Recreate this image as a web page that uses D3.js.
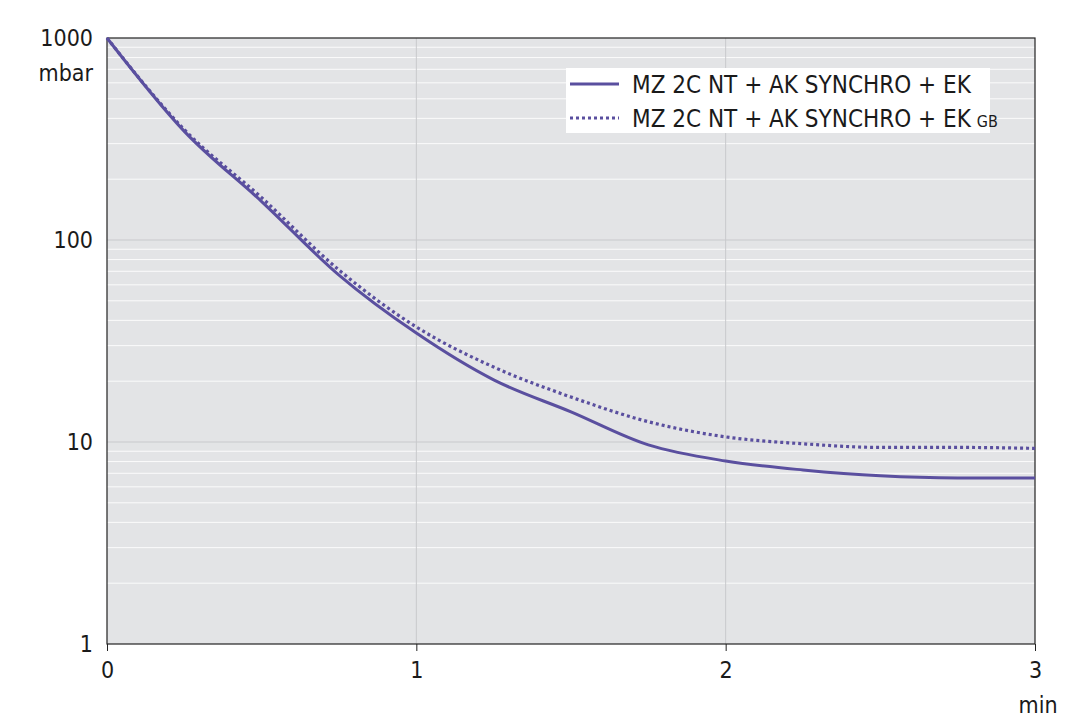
<!DOCTYPE html><html><head><meta charset="utf-8">
<script src="https://cdn.jsdelivr.net/npm/d3@7"></script>
<style>body{margin:0;background:#fff}text{font-family:"DejaVu Sans Condensed","DejaVu Sans",sans-serif;fill:#1a1a1a}</style></head><body>
<svg id="c" width="1080" height="721"></svg>
<script>
const times=[0,0.25,0.5,0.75,1,1.25,1.5,1.75,2,2.25,2.5,2.75,3];
const solid=[1000,345,155,67,34.6,20.3,14.1,9.67,8.05,7.27,6.8,6.64,6.64];
const dotted=[1000,352,162,71,37.1,23.5,16.7,12.6,10.6,9.8,9.4,9.4,9.3];
const xTicks=[0,1,2,3];
const yTicks=[1,10,100,1000];
const labels=["MZ 2C NT + AK SYNCHRO + EK","MZ 2C NT + AK SYNCHRO + EK"];
const svg=d3.select("#c");
const x=d3.scaleLinear().domain([0,3]).range([107,1035]);
const y=d3.scaleLog().domain([1,1000]).range([644,38]);
svg.append("rect").attr("x",107).attr("y",38).attr("width",928).attr("height",606).attr("fill","#e3e4e6");
const minor=[];for(let d=1;d<1000;d*=10)for(let k=2;k<=9;k++)minor.push(d*k);
svg.selectAll(".mg").data(minor).join("line").attr("x1",107).attr("x2",1035).attr("y1",d=>y(d)).attr("y2",d=>y(d)).attr("stroke","#fbfbfb").attr("stroke-width",1);
svg.selectAll(".Mg").data([10,100]).join("line").attr("x1",107).attr("x2",1035).attr("y1",d=>y(d)).attr("y2",d=>y(d)).attr("stroke","#c8c9cc").attr("stroke-width",1);
svg.selectAll(".vg").data([1,2]).join("line").attr("y1",38).attr("y2",644).attr("x1",d=>x(d)).attr("x2",d=>x(d)).attr("stroke","#c8c9cc");
svg.append("rect").attr("x",107).attr("y",38).attr("width",928).attr("height",606).attr("fill","none").attr("stroke","#222").attr("stroke-width",1.2);
const ax=svg.append("g").attr("transform","translate(0,644)").call(d3.axisBottom(x).tickValues(xTicks).tickSize(7).tickFormat(d3.format("d")));
ax.select(".domain").remove();ax.selectAll("line").attr("stroke","#222");ax.selectAll("text").attr("font-size",23).attr("dy","1.05em").style("font-family",null);
const ay=svg.append("g").attr("transform","translate(107,0)").call(d3.axisLeft(y).tickValues(yTicks).tickSize(0).tickPadding(14).tickFormat(d3.format("d")));
ay.select(".domain").remove();ay.selectAll("text").attr("font-size",23).style("font-family",null);
svg.append("text").attr("x",93).attr("y",81).attr("text-anchor","end").attr("font-size",23).text("mbar");
svg.append("text").attr("x",1038).attr("y",713).attr("text-anchor","middle").attr("font-size",23).text("min");
const line=d3.line().x((d,i)=>x(times[i])).y(d=>y(d)).curve(d3.curveMonotoneX);
const col="#5a4f9f";
svg.append("path").attr("d",line(dotted)).attr("fill","none").attr("stroke",col).attr("stroke-width",3.2).attr("stroke-dasharray","3,3");
svg.append("path").attr("d",line(solid)).attr("fill","none").attr("stroke",col).attr("stroke-width",3);
svg.append("rect").attr("x",566).attr("y",68).attr("width",424).attr("height",65).attr("fill","#fff");
svg.append("line").attr("x1",570).attr("x2",619).attr("y1",84).attr("y2",84).attr("stroke",col).attr("stroke-width",3);
svg.append("line").attr("x1",570).attr("x2",619).attr("y1",118).attr("y2",118).attr("stroke",col).attr("stroke-width",3).attr("stroke-dasharray","3,3");
svg.append("text").attr("x",632).attr("y",93).attr("font-size",24).text(labels[0]);
const t2=svg.append("text").attr("x",632).attr("y",127).attr("font-size",24).text(labels[1]);
t2.append("tspan").attr("font-size",16).attr("dx",6).text("GB");
</script></body></html>
